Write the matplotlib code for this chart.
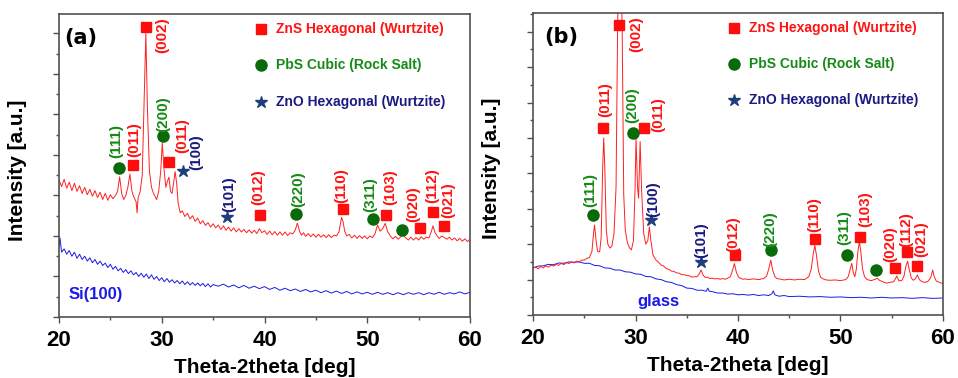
import numpy as np
import matplotlib.pyplot as plt

# ---- panel (a): film on Si(100) ----
red_a = [(20.0, 3.38), (20.25, 3.22), (20.5, 3.40), (20.75, 3.18), (21.0, 3.33), (21.25, 3.12),
         (21.5, 3.30), (21.75, 3.10), (22.0, 3.24), (22.25, 3.05), (22.5, 3.20), (22.75, 3.02),
         (23.0, 3.15), (23.25, 2.98), (23.5, 3.12), (23.75, 2.95), (24.0, 3.08), (24.25, 2.90),
         (24.5, 3.05), (24.75, 2.88), (25.0, 3.02), (25.25, 2.92), (25.5, 3.00), (25.7, 3.10),
         (25.9, 3.46), (26.1, 3.05), (26.3, 2.90), (26.5, 3.00), (26.7, 3.20), (26.9, 3.53),
         (27.1, 3.10), (27.3, 2.95), (27.5, 2.85), (27.6, 2.57), (27.7, 2.95), (27.9, 3.10),
         (28.1, 3.50), (28.3, 5.50), (28.45, 7.00), (28.6, 5.20), (28.8, 3.60), (29.0, 3.20),
         (29.2, 3.05), (29.4, 2.95), (29.5, 2.90), (29.7, 3.10), (29.9, 3.60), (30.05, 4.30),
         (30.2, 3.70), (30.4, 3.20), (30.55, 3.35), (30.7, 3.45), (30.85, 3.10), (31.0, 3.05),
         (31.15, 3.30), (31.3, 3.59), (31.45, 3.30), (31.6, 2.80), (31.8, 2.57), (32.0, 2.62),
         (32.25, 2.48), (32.5, 2.56), (32.75, 2.42), (33.0, 2.50), (33.25, 2.36), (33.5, 2.44),
         (33.75, 2.30), (34.0, 2.38), (34.25, 2.26), (34.5, 2.33), (34.75, 2.22), (35.0, 2.30),
         (35.25, 2.20), (35.5, 2.27), (35.75, 2.16), (36.0, 2.25), (36.25, 2.14), (36.5, 2.22),
         (36.75, 2.12), (37.0, 2.20), (37.25, 2.10), (37.5, 2.18), (37.75, 2.10), (38.0, 2.16),
         (38.25, 2.08), (38.5, 2.15), (38.75, 2.07), (39.0, 2.14), (39.25, 2.06), (39.5, 2.18),
         (39.75, 2.08), (40.0, 2.13), (40.25, 2.04), (40.5, 2.12), (40.75, 2.03), (41.0, 2.11),
         (41.25, 2.02), (41.5, 2.10), (41.75, 2.02), (42.0, 2.10), (42.25, 2.01), (42.5, 2.08),
         (42.75, 2.05), (43.0, 2.15), (43.2, 2.32), (43.4, 2.12), (43.6, 2.02), (43.8, 2.08),
         (44.0, 1.99), (44.25, 2.06), (44.5, 1.98), (44.75, 2.05), (45.0, 1.97), (45.25, 2.04),
         (45.5, 1.97), (45.75, 2.03), (46.0, 1.96), (46.25, 2.03), (46.5, 1.96), (46.75, 2.02),
         (47.0, 2.00), (47.25, 2.10), (47.5, 2.46), (47.65, 2.35), (47.8, 2.12), (48.0, 2.00),
         (48.25, 2.04), (48.5, 1.95), (48.75, 2.02), (49.0, 1.94), (49.25, 2.01), (49.5, 1.94),
         (49.75, 2.00), (50.0, 1.93), (50.25, 2.00), (50.5, 1.96), (50.75, 2.05), (51.0, 2.27),
         (51.25, 2.12), (51.5, 2.18), (51.75, 2.31), (52.0, 2.10), (52.25, 2.00), (52.5, 1.93),
         (52.75, 1.99), (53.0, 1.92), (53.25, 1.98), (53.5, 2.03), (53.75, 1.95), (54.0, 1.90),
         (54.25, 1.97), (54.5, 1.90), (54.75, 1.96), (55.0, 1.90), (55.25, 1.98), (55.5, 1.92),
         (55.75, 1.97), (56.0, 1.95), (56.2, 2.08), (56.4, 2.25), (56.6, 2.08), (56.8, 2.00),
         (57.0, 1.94), (57.25, 2.00), (57.5, 1.96), (57.75, 1.92), (58.0, 1.97), (58.25, 1.90),
         (58.5, 1.95), (58.75, 1.88), (59.0, 1.94), (59.25, 1.87), (59.5, 1.93), (59.75, 1.86),
         (60.0, 1.92)]

blue_a = [(20.0, 1.73), (20.1, 1.95), (20.25, 1.60), (20.5, 1.68), (20.75, 1.55), (21.0, 1.64),
          (21.25, 1.50), (21.5, 1.60), (21.75, 1.45), (22.0, 1.55), (22.25, 1.42), (22.5, 1.50),
          (22.75, 1.38), (23.0, 1.46), (23.25, 1.34), (23.5, 1.42), (23.75, 1.30), (24.0, 1.38),
          (24.25, 1.27), (24.5, 1.33), (24.75, 1.22), (25.0, 1.30), (25.25, 1.18), (25.5, 1.25),
          (25.75, 1.14), (26.0, 1.20), (26.25, 1.10), (26.5, 1.17), (26.75, 1.07), (27.0, 1.14),
          (27.25, 1.04), (27.5, 1.10), (27.75, 1.00), (28.0, 1.08), (28.25, 0.98), (28.5, 1.06),
          (28.75, 0.95), (29.0, 1.04), (29.25, 0.93), (29.5, 1.00), (29.75, 0.90), (30.0, 0.97),
          (30.25, 0.87), (30.5, 0.95), (30.75, 0.86), (31.0, 0.92), (31.25, 0.84), (31.5, 0.90),
          (31.75, 0.82), (32.0, 0.89), (32.25, 0.80), (32.5, 0.87), (32.75, 0.79), (33.0, 0.85),
          (33.25, 0.78), (33.5, 0.84), (33.75, 0.77), (34.0, 0.83), (34.25, 0.75), (34.5, 0.82),
          (34.75, 0.74), (35.0, 0.80), (35.5, 0.76), (36.0, 0.81), (36.5, 0.74), (37.0, 0.79),
          (37.5, 0.72), (38.0, 0.78), (38.5, 0.71), (39.0, 0.76), (39.5, 0.70), (40.0, 0.75),
          (40.5, 0.68), (41.0, 0.73), (41.5, 0.66), (42.0, 0.71), (42.5, 0.65), (43.0, 0.69),
          (43.5, 0.63), (44.0, 0.68), (44.5, 0.62), (45.0, 0.66), (45.5, 0.60), (46.0, 0.65),
          (46.5, 0.59), (47.0, 0.64), (47.5, 0.58), (48.0, 0.63), (48.5, 0.57), (49.0, 0.62),
          (49.5, 0.57), (50.0, 0.61), (50.5, 0.56), (51.0, 0.61), (51.5, 0.56), (52.0, 0.60),
          (52.5, 0.55), (53.0, 0.60), (53.5, 0.55), (54.0, 0.60), (54.5, 0.56), (55.0, 0.60),
          (55.5, 0.55), (56.0, 0.60), (56.5, 0.56), (57.0, 0.61), (57.5, 0.56), (58.0, 0.60),
          (58.5, 0.57), (59.0, 0.62), (59.5, 0.57), (60.0, 0.61)]

# ---- panel (b): film on glass ----
red_b = [(20.0, 1.32), (20.25, 1.36), (20.5, 1.30), (20.75, 1.37), (21.0, 1.33), (21.25, 1.39),
         (21.5, 1.35), (21.75, 1.41), (22.0, 1.38), (22.25, 1.43), (22.5, 1.40), (22.75, 1.46),
         (23.0, 1.42), (23.25, 1.48), (23.5, 1.45), (23.75, 1.50), (24.0, 1.47), (24.25, 1.52),
         (24.5, 1.50), (24.75, 1.55), (25.0, 1.55), (25.25, 1.60), (25.5, 1.62), (25.75, 1.80),
         (25.9, 2.30), (26.0, 2.54), (26.15, 2.10), (26.3, 1.80), (26.5, 1.78), (26.65, 2.20),
         (26.8, 4.20), (26.9, 5.00), (27.0, 4.20), (27.15, 2.40), (27.3, 2.00), (27.5, 1.89),
         (27.7, 1.95), (27.9, 2.30), (28.1, 3.60), (28.25, 8.00), (28.4, 11.0), (28.55, 11.0),
         (28.7, 8.00), (28.85, 3.40), (29.0, 2.40), (29.2, 2.05), (29.4, 1.90), (29.6, 1.84),
         (29.8, 2.10), (29.95, 3.50), (30.05, 5.00), (30.2, 3.60), (30.3, 3.30), (30.45, 4.90),
         (30.6, 3.50), (30.8, 2.30), (31.0, 2.00), (31.2, 2.10), (31.35, 2.49), (31.5, 2.10),
         (31.7, 1.70), (32.0, 1.55), (32.25, 1.49), (32.5, 1.41), (32.75, 1.38), (33.0, 1.31),
         (33.25, 1.29), (33.5, 1.24), (33.75, 1.23), (34.0, 1.19), (34.25, 1.18), (34.5, 1.14),
         (34.75, 1.14), (35.0, 1.11), (35.25, 1.11), (35.5, 1.07), (35.75, 1.08), (36.0, 1.08),
         (36.2, 1.15), (36.4, 1.27), (36.6, 1.12), (36.8, 1.06), (37.0, 1.07), (37.25, 1.03),
         (37.5, 1.04), (37.75, 1.02), (38.0, 1.03), (38.25, 1.01), (38.5, 1.03), (38.75, 1.01),
         (39.0, 1.04), (39.25, 1.08), (39.45, 1.25), (39.65, 1.45), (39.85, 1.20), (40.05, 1.07),
         (40.3, 1.03), (40.5, 1.01), (40.75, 1.02), (41.0, 1.00), (41.5, 1.02), (42.0, 1.00),
         (42.5, 1.03), (42.8, 1.10), (43.0, 1.30), (43.2, 1.55), (43.4, 1.25), (43.6, 1.08),
         (43.8, 1.03), (44.0, 1.02), (44.5, 0.99), (45.0, 1.01), (45.5, 0.99), (46.0, 1.01),
         (46.5, 1.00), (46.9, 1.08), (47.15, 1.30), (47.35, 1.75), (47.5, 1.96), (47.65, 1.70),
         (47.85, 1.25), (48.05, 1.07), (48.3, 1.02), (48.6, 0.99), (49.0, 0.98), (49.5, 0.99),
         (50.0, 0.97), (50.5, 1.00), (50.75, 1.08), (50.95, 1.30), (51.1, 1.46), (51.25, 1.20),
         (51.4, 1.08), (51.55, 1.30), (51.7, 1.80), (51.85, 2.07), (52.0, 1.75), (52.15, 1.30),
         (52.35, 1.08), (52.6, 1.00), (53.0, 0.97), (53.4, 1.01), (53.6, 1.04), (53.8, 0.98),
         (54.2, 0.93), (54.5, 0.90), (54.8, 0.92), (55.2, 0.94), (55.5, 1.10), (55.7, 0.96),
         (56.0, 0.98), (56.2, 1.10), (56.4, 1.40), (56.55, 1.52), (56.7, 1.30), (56.9, 1.05),
         (57.1, 0.98), (57.3, 1.02), (57.5, 1.13), (57.7, 1.00), (57.9, 0.95), (58.2, 0.92),
         (58.5, 0.94), (58.8, 1.05), (59.0, 1.27), (59.15, 1.08), (59.35, 0.96), (59.6, 0.93),
         (59.8, 0.90), (60.0, 0.90)]

blue_b = [(20.0, 1.33), (20.5, 1.38), (21.0, 1.39), (21.5, 1.43), (22.0, 1.42), (22.5, 1.47),
          (23.0, 1.46), (23.5, 1.50), (24.0, 1.49), (24.5, 1.50), (25.0, 1.46), (25.5, 1.46),
          (26.0, 1.40), (26.5, 1.39), (27.0, 1.33), (27.5, 1.32), (28.0, 1.27), (28.5, 1.27),
          (29.0, 1.22), (29.5, 1.21), (30.0, 1.16), (30.5, 1.15), (31.0, 1.09), (31.5, 1.08),
          (32.0, 1.02), (32.5, 1.00), (33.0, 0.94), (33.5, 0.92), (34.0, 0.86), (34.5, 0.83),
          (35.0, 0.76), (35.5, 0.75), (36.0, 0.70), (36.5, 0.70), (36.9, 0.67), (37.05, 0.76),
          (37.2, 0.67), (37.5, 0.66), (38.0, 0.62), (38.5, 0.62), (39.0, 0.59), (39.5, 0.60),
          (40.0, 0.57), (40.5, 0.58), (41.0, 0.56), (41.5, 0.58), (42.0, 0.55), (42.5, 0.57),
          (43.0, 0.55), (43.3, 0.60), (43.45, 0.68), (43.6, 0.57), (44.0, 0.53), (44.5, 0.55),
          (45.0, 0.52), (46.0, 0.53), (47.0, 0.51), (48.0, 0.52), (49.0, 0.50), (50.0, 0.51),
          (51.0, 0.49), (52.0, 0.50), (53.0, 0.48), (54.0, 0.50), (55.0, 0.48), (56.0, 0.49),
          (57.0, 0.47), (58.0, 0.49), (59.0, 0.47), (60.0, 0.48)]

# phase markers (2theta, height)
zns_a = [(27.24, 3.74), (28.47, 7.17), (30.74, 3.83), (39.57, 2.51), (47.62, 2.66),
         (51.8, 2.52), (55.15, 2.19), (56.39, 2.6), (57.49, 2.25)]
pbs_a = [(25.87, 3.69), (30.1, 4.48), (43.08, 2.54), (50.58, 2.43), (53.37, 2.15)]
zno_a = [(32.1, 3.6), (36.33, 2.46)]

zns_b = [(26.86, 5.27), (28.42, 8.19), (30.83, 5.27), (39.68, 1.69), (47.51, 2.14),
         (51.87, 2.21), (55.28, 1.32), (56.46, 1.78), (57.49, 1.38)]
pbs_b = [(25.88, 2.82), (29.72, 5.13), (43.19, 1.84), (50.67, 1.69), (53.46, 1.27)]
zno_b = [(31.48, 2.68), (36.36, 1.51)]

# hkl labels: text, phase, x, y (bottom of rotated text)
hkl_a = [("(111)", "pbs", 25.55, 3.93), ("(011)", "zns", 27.33, 3.95), ("(002)", "zns", 30.0, 6.52),
         ("(200)", "pbs", 30.1, 4.57), ("(011)", "zns", 32.04, 4.05), ("(100)", "zno", 33.4, 3.63),
         ("(101)", "zno", 36.58, 2.59), ("(012)", "zns", 39.38, 2.77), ("(220)", "pbs", 43.24, 2.72),
         ("(110)", "zns", 47.43, 2.81), ("(311)", "pbs", 50.28, 2.59), ("(103)", "zns", 52.23, 2.77),
         ("(020)", "zns", 54.47, 2.35), ("(112)", "zns", 56.32, 2.81), ("(021)", "zns", 57.88, 2.44)]
hkl_b = [("(111)", "pbs", 25.56, 3.05), ("(011)", "zns", 27.02, 5.59), ("(002)", "zns", 30.12, 7.43),
         ("(200)", "pbs", 29.73, 5.42), ("(011)", "zns", 32.22, 5.17), ("(100)", "zno", 31.74, 2.77),
         ("(101)", "zno", 36.46, 1.61), ("(012)", "zns", 39.54, 1.78), ("(220)", "pbs", 43.12, 1.92),
         ("(110)", "zns", 47.41, 2.34), ("(311)", "pbs", 50.34, 1.98), ("(103)", "zns", 52.39, 2.49),
         ("(020)", "zns", 54.83, 1.50), ("(112)", "zns", 56.46, 1.92), ("(021)", "zns", 57.92, 1.64)]

legend_names = ["ZnS Hexagonal (Wurtzite)", "PbS Cubic (Rock Salt)", "ZnO Hexagonal (Wurtzite)"]

text_col = {"zns": "#ff1414", "pbs": "#168a16", "zno": "#1a1a80"}
mark_col = {"zns": "#ff0d0d", "pbs": "#0a6a0a", "zno": "#1f3f7a"}
mark_sty = {"zns": ("s", 6.5), "pbs": ("o", 8), "zno": ("*", 9)}

FONT = "Liberation Sans"

fig = plt.figure(figsize=(9.58, 3.78), dpi=100)
ax_a = fig.add_axes([0.0616, 0.1614, 0.429, 0.8016])
ax_b = fig.add_axes([0.5564, 0.1667, 0.4279, 0.7989])


def draw(ax, red, blue, markers, hkl, ytop, tag, tag_x, sub, sub_xy):
    x, y = np.array(red).T
    ax.plot(x, y, color="#ff2020", lw=0.7, zorder=2)
    x, y = np.array(blue).T
    ax.plot(x, y, color="#1a1ae6", lw=0.7, zorder=1)

    for ph, pts in markers.items():
        px, py = np.array(pts).T
        m, s = mark_sty[ph]
        ax.plot(px, py, ls="none", marker=m, ms=s, color=mark_col[ph], zorder=3)

    for txt, ph, lx, ly in hkl:
        ax.text(lx, ly, txt, rotation=90, ha="center", va="bottom", color=text_col[ph],
                fontsize=11, fontweight="bold", family=FONT)

    # legend drawn by hand
    for i, ph in enumerate(["zns", "pbs", "zno"]):
        yy = [0.9495, 0.832, 0.7106][i]
        m, s = mark_sty[ph]
        ax.plot([0.491], [yy], transform=ax.transAxes, ls="none", marker=m, ms=s,
                color=mark_col[ph], clip_on=False)
        ax.text(0.527, yy, legend_names[i], transform=ax.transAxes, va="center", ha="left",
                color=text_col[ph], fontsize=10, fontweight="bold", family=FONT)

    ax.text(tag_x, 0.922, tag, transform=ax.transAxes, fontsize=15, fontweight="bold",
            va="center", ha="left", family="DejaVu Sans")
    ax.text(sub_xy[0], sub_xy[1], sub, color="#1a1ae6", fontsize=12, fontweight="bold",
            family=FONT, va="baseline", ha="left")

    ax.set_xlim(20, 60)
    ax.set_ylim(0, ytop)
    ax.set_xticks([20, 30, 40, 50, 60])
    ax.set_xticks([25, 35, 45, 55], minor=True)
    ax.set_yticks(np.arange(0, ytop, 1.0))
    ax.set_yticks(np.arange(0.5, ytop, 1.0), minor=True)
    ax.set_yticklabels([])
    for lab in ax.get_xticklabels():
        lab.set_fontfamily(FONT)
        lab.set_fontweight("bold")
        lab.set_fontsize(16)
    ax.tick_params(which="major", length=4.5, width=1, color="#505050", pad=5)
    ax.tick_params(which="minor", length=2.5, width=1, color="#505050")
    for sp in ax.spines.values():
        sp.set_color("#505050")
        sp.set_linewidth(1.2)
    ax.set_xlabel("Theta-2theta [deg]", fontsize=15, fontweight="bold", family=FONT)
    ax.set_ylabel("Intensity [a.u.]", fontsize=15, fontweight="bold", family=FONT)
    ax.xaxis.set_label_coords(0.5, -0.135)
    ax.yaxis.set_label_coords(-0.078, 0.485)


draw(ax_a, red_a, blue_a, {"zns": zns_a, "pbs": pbs_a, "zno": zno_a}, hkl_a, 7.48,
     "(a)", 0.012, "Si(100)", (20.9, 0.44))
draw(ax_b, red_b, blue_b, {"zns": zns_b, "pbs": pbs_b, "zno": zno_b}, hkl_b, 8.53,
     "(b)", 0.027, "glass", (30.15, 0.25))

fig.savefig("out.png", dpi=100)
